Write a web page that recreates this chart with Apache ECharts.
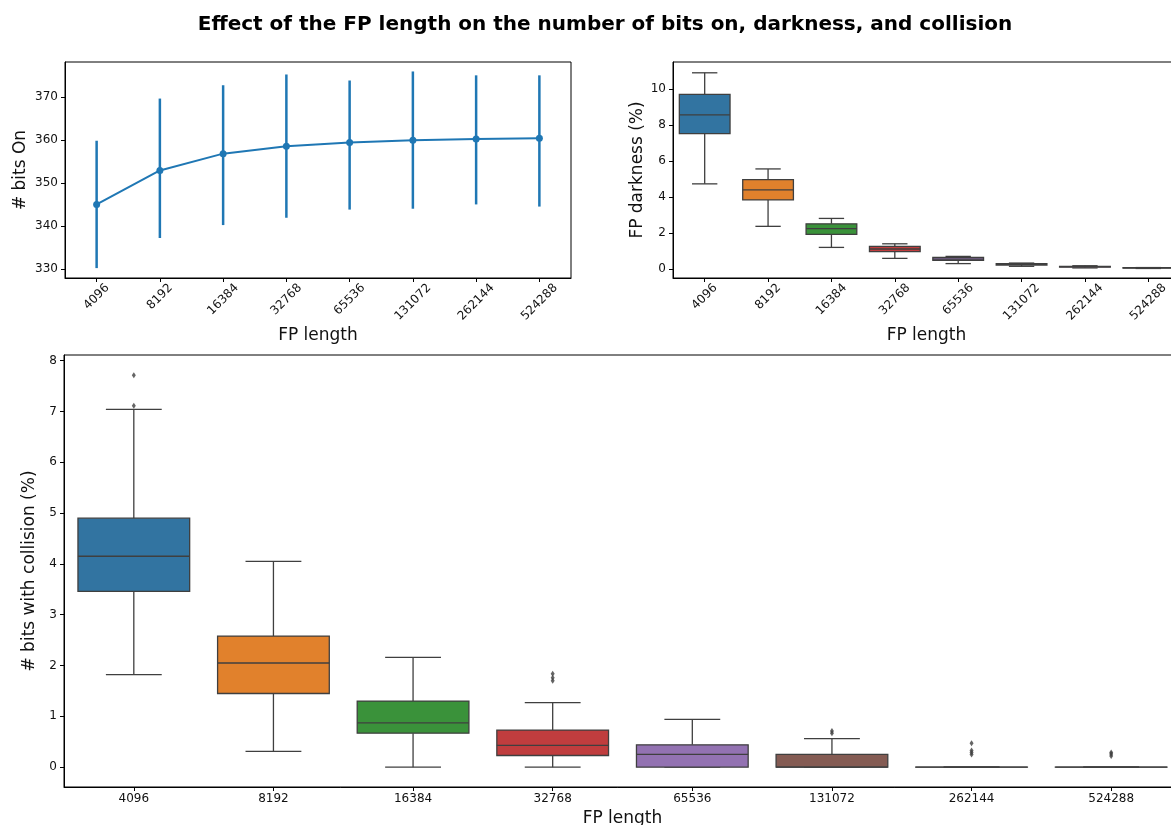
<!DOCTYPE html>
<html>
<head>
<meta charset="utf-8">
<script src="https://cdn.jsdelivr.net/npm/echarts@6/dist/echarts.min.js"></script>
<style>
  html, body { margin: 0; padding: 0; background: #ffffff; }
  #chart { width: 1171px; height: 825px; }
</style>
</head>
<body>
<div id="chart"></div>
<script>
// Fingerprint lengths (x categories shared by all three panels)
const fpLengths = ['4096', '8192', '16384', '32768', '65536', '131072', '262144', '524288'];

// Number of bits on: mean and error-bar extent
const bitsOnMean  = [345.0, 352.9, 356.8, 358.5, 359.4, 359.9, 360.2, 360.4];
const bitsOnLower = [330.2, 337.2, 340.2, 341.9, 343.8, 344.0, 345.0, 344.5];
const bitsOnUpper = [359.8, 369.6, 372.7, 375.2, 373.8, 375.9, 375.0, 375.0];

// Five-number summaries: [lower whisker, Q1, median, Q3, upper whisker]
const darknessBoxes = [
  [4.73, 7.52, 8.56, 9.70, 10.90],
  [2.37, 3.84, 4.40, 4.97, 5.56],
  [1.20, 1.92, 2.24, 2.51, 2.81],
  [0.59, 0.96, 1.11, 1.26, 1.40],
  [0.30, 0.48, 0.55, 0.65, 0.70],
  [0.15, 0.22, 0.26, 0.30, 0.33],
  [0.06, 0.10, 0.13, 0.15, 0.18],
  [0.03, 0.05, 0.06, 0.07, 0.08]
];
const collisionBoxes = [
  [1.82, 3.46, 4.15, 4.90, 7.04],
  [0.31, 1.45, 2.05, 2.58, 4.05],
  [0.00, 0.67, 0.87, 1.30, 2.16],
  [0.00, 0.23, 0.43, 0.73, 1.27],
  [0.00, 0.00, 0.25, 0.44, 0.94],
  [0.00, 0.00, 0.00, 0.25, 0.56],
  [0.00, 0.00, 0.00, 0.00, 0.00],
  [0.00, 0.00, 0.00, 0.00, 0.00]
];
const collisionOutliers = [
  ['4096', 7.71], ['4096', 7.11],
  ['32768', 1.84], ['32768', 1.76], ['32768', 1.70],
  ['131072', 0.71], ['131072', 0.67],
  ['262144', 0.47], ['262144', 0.33], ['262144', 0.29], ['262144', 0.25],
  ['524288', 0.29], ['524288', 0.26], ['524288', 0.22]
];

// Tick labels
const bitsOnTicks    = [330, 340, 350, 360, 370];
const darknessTicks  = [0, 2, 4, 6, 8, 10];
const collisionTicks = [0, 1, 2, 3, 4, 5, 6, 7, 8];

const boxColors = ['#3274a1', '#e1812c', '#3a923a', '#c03d3e', '#9372b2', '#845b53', '#d684bd', '#7f7f7f'];
const lineColor = '#1f77b4';
const FONT = 'DejaVu Sans';
const INK = '#111111';
const EDGE = '#3f3f3f';

// Rotated tick labels: padding grows with label length so each label's
// box hangs below its tick the same way regardless of length.
function rotatedLabel() {
  const rich = {};
  [4, 5, 6].forEach(n => {
    const p = 3.82 * n;
    rich['r' + n] = { fontFamily: FONT, fontSize: 12, color: INK, padding: [p, p, 0, 0] };
  });
  return {
    interval: 0, rotate: 45, margin: 8, align: 'center', verticalAlign: 'middle',
    formatter: v => '{r' + v.length + '|' + v + '}',
    rich
  };
}

function categoryAxis(gridIndex, rotated, nameGap) {
  return {
    type: 'category', gridIndex, data: fpLengths, boundaryGap: true,
    name: 'FP length', nameLocation: 'middle', nameGap,
    nameTextStyle: { fontFamily: FONT, fontSize: 17, color: INK },
    axisLine: { show: true, onZero: false, lineStyle: { color: '#000', width: 1 } },
    axisTick: { show: true, alignWithLabel: true, length: 4, lineStyle: { color: '#000' } },
    axisLabel: rotated ? rotatedLabel()
                       : { interval: 0, margin: 6, fontFamily: FONT, fontSize: 12, color: INK },
    splitLine: { show: false }
  };
}

function valueAxis(gridIndex, name, nameGap, min, max, ticks) {
  return {
    type: 'value', gridIndex, min, max,
    name, nameLocation: 'middle', nameGap, nameRotate: 90,
    nameTextStyle: { fontFamily: FONT, fontSize: 17, color: INK },
    axisLine: { show: true, onZero: false, lineStyle: { color: '#000', width: 1 } },
    axisTick: { show: true, length: 4, customValues: ticks, lineStyle: { color: '#000' } },
    axisLabel: { customValues: ticks, margin: 7, fontFamily: FONT, fontSize: 12, color: INK },
    splitLine: { show: false }
  };
}

// Box with half-width whisker caps, drawn from the axes' own scales
function renderBox(params, api) {
  const i = api.value(0);
  const lo = api.value(1), q1 = api.value(2), med = api.value(3), q3 = api.value(4), hi = api.value(5);
  const half = api.size([1, 0])[0] * 0.4;
  const cx = api.coord([i, med])[0];
  const y = v => api.coord([i, v])[1];
  const edge = { stroke: EDGE, lineWidth: 1.3 };
  const seg = (x1, y1, x2, y2) => ({ type: 'line', shape: { x1, y1, x2, y2 }, style: edge });
  return {
    type: 'group',
    children: [
      seg(cx, y(hi), cx, y(q3)),
      seg(cx, y(q1), cx, y(lo)),
      seg(cx - half / 2, y(hi), cx + half / 2, y(hi)),
      seg(cx - half / 2, y(lo), cx + half / 2, y(lo)),
      {
        type: 'rect',
        shape: { x: cx - half, y: y(q3), width: half * 2, height: Math.max(y(q1) - y(q3), 0.01) },
        style: { fill: boxColors[i], stroke: EDGE, lineWidth: 1.3 }
      },
      seg(cx - half, y(med), cx + half, y(med))
    ]
  };
}

function renderErrorBar(params, api) {
  const i = api.value(0);
  const a = api.coord([i, api.value(1)]);
  const b = api.coord([i, api.value(2)]);
  return { type: 'line', shape: { x1: a[0], y1: a[1], x2: b[0], y2: b[1] },
           style: { stroke: lineColor, lineWidth: 2.5 } };
}

const chart = echarts.init(document.getElementById('chart'), null, { renderer: 'canvas' });

const gridBase = { show: true, borderColor: '#000', borderWidth: 1, containLabel: false, outerBoundsMode: 'none' };

chart.setOption({
  animation: false,
  backgroundColor: '#ffffff',
  title: {
    text: 'Effect of the FP length on the number of bits on, darkness, and collision',
    left: 600, top: 10, textAlign: 'center',
    textStyle: { fontFamily: FONT, fontSize: 20, fontWeight: 'bold', color: '#000' }
  },
  grid: [
    Object.assign({ left: 65,  top: 62,  width: 506,  height: 216 }, gridBase),
    Object.assign({ left: 673, top: 62,  width: 507,  height: 216 }, gridBase),
    Object.assign({ left: 64,  top: 355, width: 1117, height: 432 }, gridBase)
  ],
  xAxis: [
    categoryAxis(0, true, 49),
    categoryAxis(1, true, 49),
    categoryAxis(2, false, 18)
  ],
  yAxis: [
    valueAxis(0, '# bits On', 36, 327.9, 378.1, bitsOnTicks),
    valueAxis(1, 'FP darkness (%)', 27, -0.5, 11.5, darknessTicks),
    valueAxis(2, '# bits with collision (%)', 24, -0.39, 8.11, collisionTicks)
  ],
  series: [
    {
      type: 'custom', xAxisIndex: 0, yAxisIndex: 0, z: 2,
      data: fpLengths.map((c, i) => [i, bitsOnLower[i], bitsOnUpper[i]]),
      encode: { x: 0, y: [1, 2] },
      renderItem: renderErrorBar
    },
    {
      type: 'line', xAxisIndex: 0, yAxisIndex: 0, z: 3,
      data: bitsOnMean,
      symbol: 'circle', symbolSize: 7, showSymbol: true,
      lineStyle: { color: lineColor, width: 2 },
      itemStyle: { color: lineColor }
    },
    {
      type: 'custom', xAxisIndex: 1, yAxisIndex: 1,
      data: darknessBoxes.map((b, i) => [i, ...b]),
      encode: { x: 0, y: [1, 2, 3, 4, 5] },
      renderItem: renderBox
    },
    {
      type: 'custom', xAxisIndex: 2, yAxisIndex: 2,
      data: collisionBoxes.map((b, i) => [i, ...b]),
      encode: { x: 0, y: [1, 2, 3, 4, 5] },
      renderItem: renderBox
    },
    {
      type: 'scatter', xAxisIndex: 2, yAxisIndex: 2, z: 4,
      data: collisionOutliers,
      symbol: 'diamond', symbolSize: [4, 6],
      itemStyle: { color: EDGE }
    }
  ]
});
</script>
</body>
</html>
